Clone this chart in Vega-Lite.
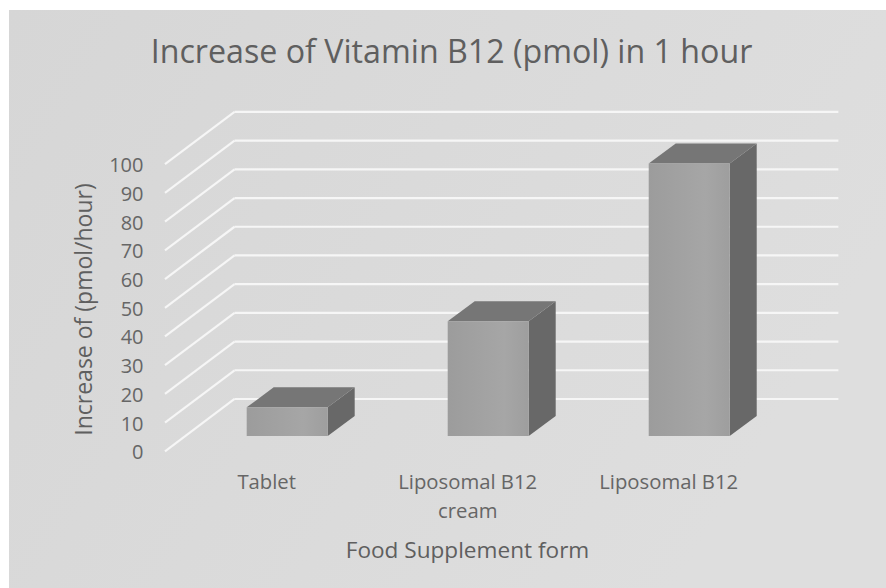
{
"$schema":"https://vega.github.io/schema/vega-lite/v6.json",
"width":877,"height":578,
"autosize":{"type":"none"},
"padding":{"left":9,"top":10,"right":0,"bottom":0},
"background":"#ffffff",
"view":{"stroke":null,"fill":{"gradient":"linear","x1":0,"y1":0,"x2":1,"y2":0.4,"stops":[{"offset":0,"color":"#d6d6d6"},{"offset":1,"color":"#dedede"}]}},
"title":{"text":"Increase of Vitamin B12 (pmol) in 1 hour","frame":"group","anchor":"middle","dx":4,"offset":-85,"baseline":"alphabetic","font":"Open Sans","fontSize":32.2,"fontWeight":"normal","color":"#5f5f5f"},
"config":{"font":"Open Sans"},
"datasets":{
"bars":[{"form":"Tablet","idx":0,"value":10},{"form":"Liposomal B12 cream","idx":1,"value":40},{"form":"Liposomal B12","idx":2,"value":95}],
"levels":[{"v":0},{"v":10},{"v":20},{"v":30},{"v":40},{"v":50},{"v":60},{"v":70},{"v":80},{"v":90},{"v":100}]
},
"layer":[
{"data":{"name":"levels"},
"mark":{"type":"rule","stroke":"#f6f6f6","strokeWidth":2.2,"y2Offset":-52.3},
"encoding":{
"x":{"datum":-0.608,"type":"quantitative","scale":{"domain":[-1.384,2.979],"nice":false,"zero":false,"padding":0},
"axis":{"values":[0,1,2],"orient":"bottom","offset":-115,"labelExpr":"datum.value==0?'Tablet':datum.value==1?['Liposomal B12','cream']:'Liposomal B12'","labelOffset":-21,"labelFontSize":20.3,"labelColor":"#666666","labelFont":"Open Sans","labelPadding":-1,"labelFlush":false,"labelOverlap":false,"labelLineHeight":29,"labelBaseline":"top","grid":false,"domain":false,"ticks":false,"title":"Food Supplement form","titleFontSize":22.6,"titleFontWeight":"normal","titleColor":"#5f5f5f","titleFont":"Open Sans","titleAnchor":"middle","titleX":458,"titleY":84,"titleBaseline":"alphabetic"}},
"x2":{"datum":-0.262},
"y":{"field":"v","type":"quantitative","scale":{"domain":[-47.63,153.73],"nice":false,"zero":false},
"axis":{"values":[0,10,20,30,40,50,60,70,80,90,100],"orient":"left","offset":-134,"labelOffset":1.5,"labelFontSize":20,"labelColor":"#666666","labelFont":"Open Sans","labelPadding":0,"labelOverlap":false,"labelFlush":false,"grid":false,"domain":false,"ticks":false,"title":"Increase of (pmol/hour)","titleFontSize":23,"titleFontWeight":"normal","titleColor":"#5f5f5f","titleFont":"Open Sans","titleAngle":270,"titleX":-52,"titleY":299,"titleAnchor":"middle","titleBaseline":"alphabetic"}},
"y2":{"field":"v"}
}},
{"data":{"name":"levels"},
"mark":{"type":"rule","stroke":"#f6f6f6","strokeWidth":2.2,"yOffset":-52.3},
"encoding":{
"x":{"datum":-0.262,"type":"quantitative"},
"x2":{"datum":2.742},
"y":{"field":"v","type":"quantitative"}
}},
{"data":{"name":"bars"},
"mark":{"type":"point","filled":true,"opacity":1,"size":4,"strokeWidth":0,"color":"#686868"},
"encoding":{
"x":{"field":"idx","type":"quantitative"},
"y":{"field":"value","type":"quantitative"},
"shape":{"field":"form","type":"nominal","legend":null,"scale":{"domain":["Tablet","Liposomal B12 cream","Liposomal B12"],"range":["M40.5 -15.2 L67.5 -35.2 L67.5 -6.5 L40.5 13.5 Z","M40.5 -15.2 L67.5 -35.2 L67.5 79.6 L40.5 99.6 Z","M40.5 -15.2 L67.5 -35.2 L67.5 237.45 L40.5 257.45 Z"]}}
}},
{"data":{"name":"bars"},
"mark":{"type":"point","filled":true,"opacity":1,"size":4,"strokeWidth":0,"color":"#767676","shape":"M-40.5 -15.2 L40.5 -15.2 L67.5 -35.2 L-13.5 -35.2 Z"},
"encoding":{
"x":{"field":"idx","type":"quantitative"},
"y":{"field":"value","type":"quantitative"}
}},
{"data":{"name":"bars"},
"mark":{"type":"bar","width":81,"yOffset":-15.2,"y2Offset":-15.2,"color":{"gradient":"linear","x1":0,"y1":0,"x2":1,"y2":0,"stops":[{"offset":0,"color":"#9c9c9c"},{"offset":0.7,"color":"#a6a6a6"},{"offset":1,"color":"#9e9e9e"}]}},
"encoding":{
"x":{"field":"idx","type":"quantitative","scale":{"domain":[-1.384,2.979],"nice":false,"zero":false,"padding":0}},
"y":{"field":"value","type":"quantitative"},
"y2":{"datum":0}
}}
]
}
